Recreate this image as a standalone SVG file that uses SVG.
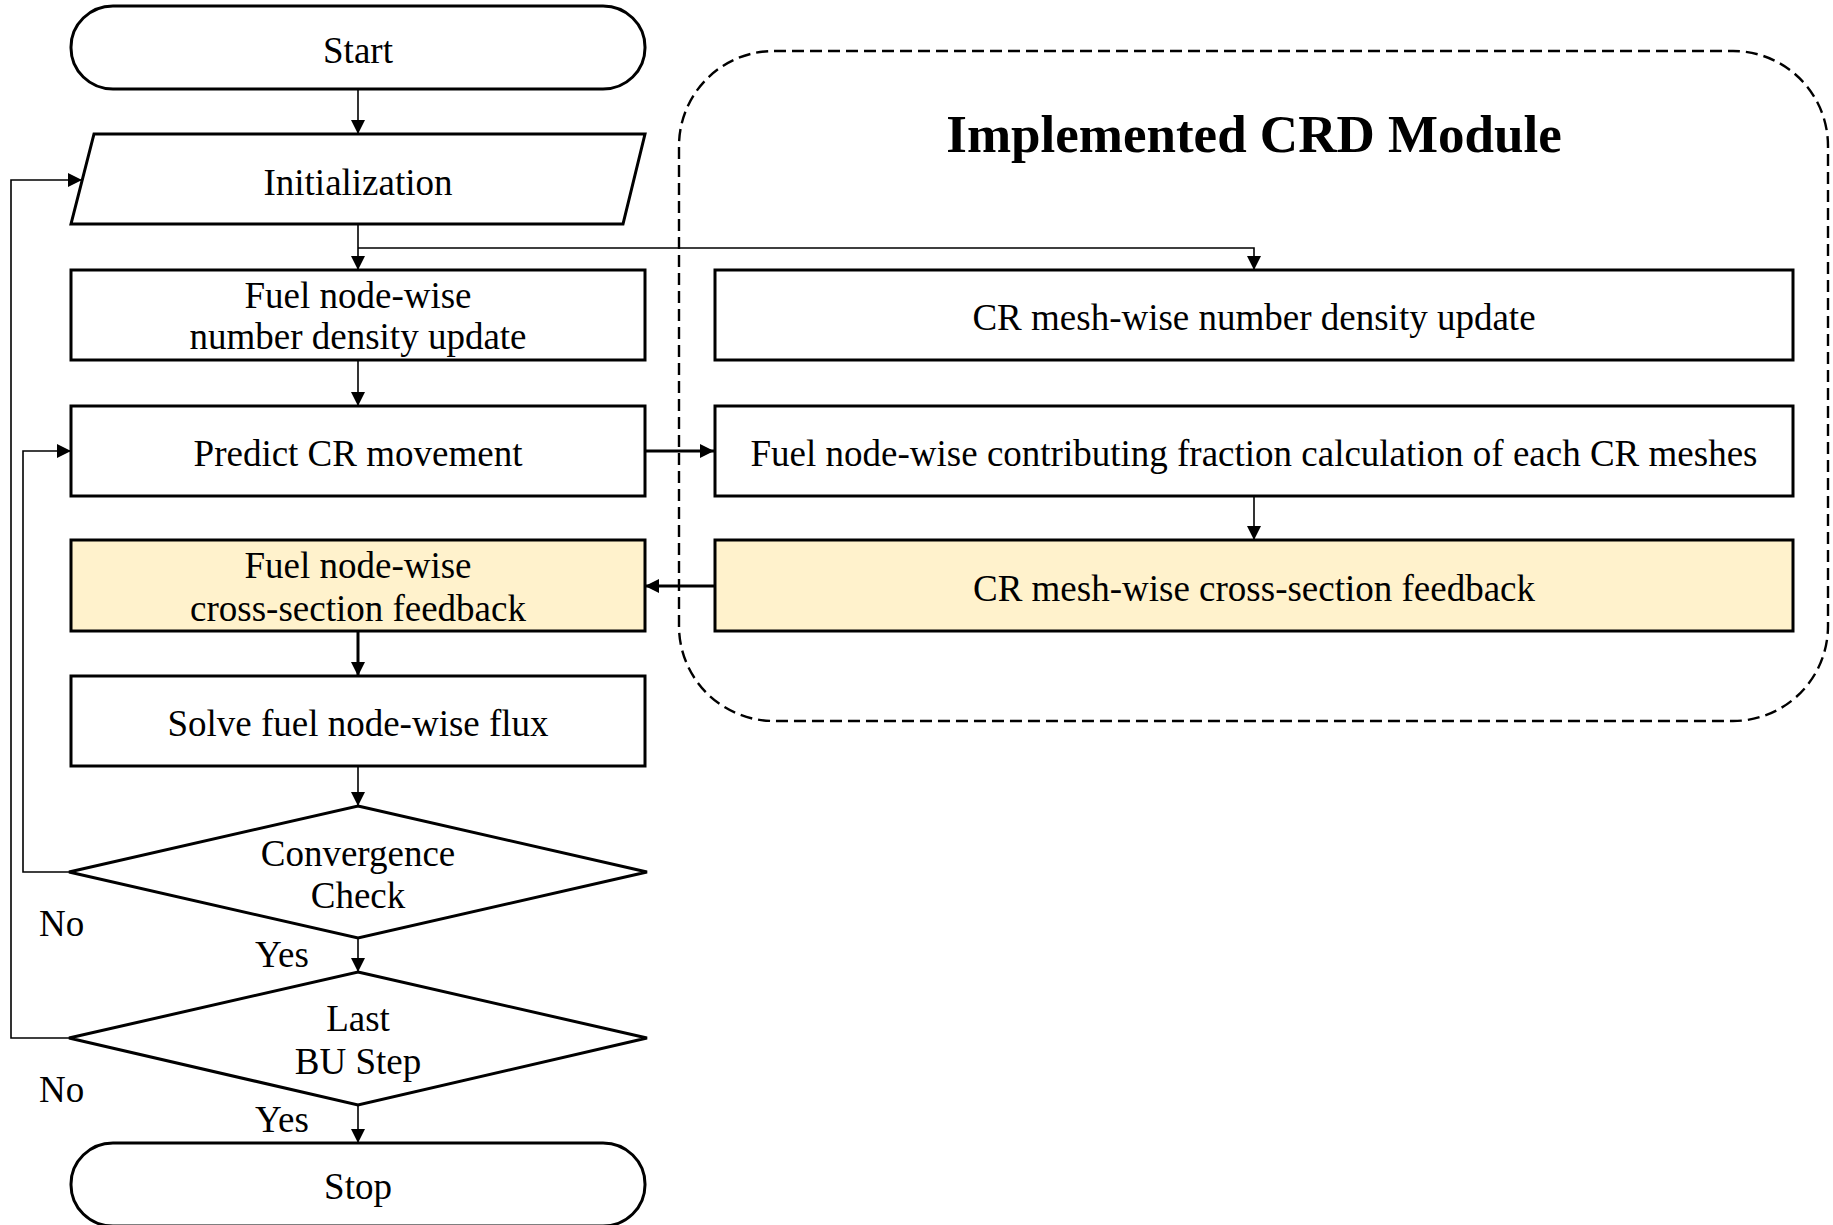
<svg xmlns="http://www.w3.org/2000/svg" width="1833" height="1225" viewBox="0 0 1833 1225">
<style>
.box{fill:#fff;stroke:#000;stroke-width:3}
.hl{fill:#FFF2CC;stroke:#000;stroke-width:3}
.t{font-family:"Liberation Serif","Times New Roman",serif;font-size:37px;fill:#000;text-anchor:middle}
.lbl{font-family:"Liberation Serif","Times New Roman",serif;font-size:37px;fill:#000}
.title{font-family:"Liberation Serif","Times New Roman",serif;font-size:53px;font-weight:bold;fill:#000;text-anchor:middle}
.c{fill:none;stroke:#000;stroke-width:1.6}
.ck{fill:none;stroke:#000;stroke-width:3}
</style>
<defs>
<marker id="ah" markerUnits="userSpaceOnUse" markerWidth="14" markerHeight="14" refX="14" refY="7" orient="auto">
<path d="M0,0 L14,7 L0,14 Z" fill="#000"/>
</marker>
</defs>
<g id="module">
<rect x="679" y="51" width="1149" height="670" rx="95" ry="95" fill="none" stroke="#000" stroke-width="2.4" stroke-dasharray="12 6"/>
<text class="title" x="1254" y="152">Implemented CRD Module</text>
</g>
<g id="connectors">
<line class="c" x1="358" y1="89" x2="358" y2="134" marker-end="url(#ah)"/>
<line class="c" x1="358" y1="224" x2="358" y2="270" marker-end="url(#ah)"/>
<polyline class="c" points="358,248 1254,248 1254,270" marker-end="url(#ah)"/>
<line class="c" x1="358" y1="360" x2="358" y2="406" marker-end="url(#ah)"/>
<line class="ck" x1="645" y1="451" x2="714" y2="451" marker-end="url(#ah)"/>
<line class="c" x1="1254" y1="496" x2="1254" y2="540" marker-end="url(#ah)"/>
<line class="ck" x1="714" y1="586" x2="645" y2="586" marker-end="url(#ah)"/>
<line class="ck" x1="358" y1="631" x2="358" y2="676" marker-end="url(#ah)"/>
<line class="c" x1="358" y1="766" x2="358" y2="806" marker-end="url(#ah)"/>
<line class="c" x1="358" y1="938" x2="358" y2="972" marker-end="url(#ah)"/>
<line class="c" x1="358" y1="1105" x2="358" y2="1143" marker-end="url(#ah)"/>
<polyline class="c" points="69,872 23,872 23,451 71,451" marker-end="url(#ah)"/>
<polyline class="c" points="69,1038 11,1038 11,180 82,180" marker-end="url(#ah)"/>
<text class="lbl" x="39" y="936">No</text>
<text class="lbl" x="255" y="967">Yes</text>
<text class="lbl" x="39" y="1102">No</text>
<text class="lbl" x="255" y="1132">Yes</text>
</g>
<g id="start">
<rect class="box" x="71" y="6" width="574" height="83" rx="42" ry="41"/>
<text class="t" x="358" y="63">Start</text>
</g>
<g id="init">
<polygon class="box" points="94,134 645,134 623,224 71,224"/>
<text class="t" x="358" y="195">Initialization</text>
</g>
<g id="fuel-nd">
<rect class="box" x="71" y="270" width="574" height="90"/>
<text class="t" x="358" y="308">Fuel node-wise</text>
<text class="t" x="358" y="349">number density update</text>
</g>
<g id="predict">
<rect class="box" x="71" y="406" width="574" height="90"/>
<text class="t" x="358" y="466">Predict CR movement</text>
</g>
<g id="fuel-xs">
<rect class="hl" x="71" y="540" width="574" height="91"/>
<text class="t" x="358" y="578">Fuel node-wise</text>
<text class="t" x="358" y="621">cross-section feedback</text>
</g>
<g id="solve">
<rect class="box" x="71" y="676" width="574" height="90"/>
<text class="t" x="358" y="736">Solve fuel node-wise flux</text>
</g>
<g id="conv">
<polygon class="box" points="358,806 647,872 358,938 69,872"/>
<text class="t" x="358" y="866">Convergence</text>
<text class="t" x="358" y="908">Check</text>
</g>
<g id="lastbu">
<polygon class="box" points="358,972 647,1038 358,1105 69,1038"/>
<text class="t" x="358" y="1031">Last</text>
<text class="t" x="358" y="1074">BU Step</text>
</g>
<g id="stop">
<rect class="box" x="71" y="1143" width="574" height="83" rx="42" ry="41"/>
<text class="t" x="358" y="1199">Stop</text>
</g>
<g id="cr-nd">
<rect class="box" x="715" y="270" width="1078" height="90"/>
<text class="t" x="1254" y="330">CR mesh-wise number density update</text>
</g>
<g id="cr-frac">
<rect class="box" x="715" y="406" width="1078" height="90"/>
<text class="t" x="1254" y="466">Fuel node-wise contributing fraction calculation of each CR meshes</text>
</g>
<g id="cr-xs">
<rect class="hl" x="715" y="540" width="1078" height="91"/>
<text class="t" x="1254" y="601">CR mesh-wise cross-section feedback</text>
</g>
</svg>
